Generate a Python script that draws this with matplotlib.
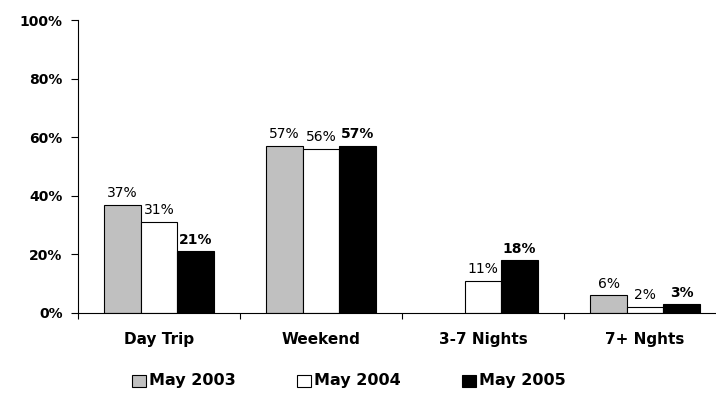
import numpy as np
import matplotlib
matplotlib.use("Agg")
import matplotlib.pyplot as plt
from matplotlib.patches import Rectangle

plt.rcParams['font.family'] = ['DejaVu Sans']

categories = ['Day Trip', 'Weekend', '3-7 Nights', '7+ Nghts']
series_names = ['May 2003', 'May 2004', 'May 2005']
may_2003 = [37, 57, np.nan, 6]
may_2004 = [31, 56, 11, 2]
may_2005 = [21, 57, 18, 3]
yticks = [0, 20, 40, 60, 80, 100]

values = [may_2003, may_2004, may_2005]
colors = ['#c0c0c0', '#ffffff', '#000000']
label_weight = ['normal', 'normal', 'bold']

W, H = 716, 393
fig = plt.figure(figsize=(W / 100, H / 100), dpi=100)
ax = fig.add_axes([78 / W, 80 / H, 648 / W, 293 / H])

x = np.arange(len(categories)) + 0.5
bw = 0.225
for i, (vals, col) in enumerate(zip(values, colors)):
    xs = x + (i - 1) * bw
    v = np.array(vals, dtype=float)
    ok = ~np.isnan(v)
    ax.bar(xs[ok], v[ok], width=bw, color=col, edgecolor='black', linewidth=0.8)
    for xx, vv in zip(xs[ok], v[ok]):
        ax.text(xx, vv + 1.6, '%d%%' % vv, ha='center', va='bottom',
                fontsize=10, fontweight=label_weight[i])

ax.set_xlim(0, 4)
ax.set_ylim(0, 100)
ax.set_yticks(yticks)
ax.set_yticklabels(['%d%%' % t for t in yticks], fontsize=10, fontweight='bold')
ax.tick_params(axis='y', length=5, width=0.8, pad=6)

ax.set_xticks(x)
ax.set_xticklabels(categories, fontsize=11, fontweight='bold')
ax.tick_params(axis='x', which='major', length=0, pad=14)
ax.set_xticks([0, 1, 2, 3], minor=True)
ax.tick_params(axis='x', which='minor', length=4, width=0.8)

for s in ['top', 'right']:
    ax.spines[s].set_visible(False)
for s in ['left', 'bottom']:
    ax.spines[s].set_linewidth(0.8)

# legend drawn by hand along the bottom
leg_x = [132, 297, 462]
for lx, name, col in zip(leg_x, series_names, colors):
    fig.add_artist(Rectangle((lx / W, (H - 387) / H), 14 / W, 12 / H,
                             transform=fig.transFigure, facecolor=col,
                             edgecolor='black', linewidth=0.8))
    fig.text((lx + 17) / W, (H - 381) / H, name, ha='left', va='center',
             fontsize=11.5, fontweight='bold')

fig.savefig('out.png', dpi=100)
